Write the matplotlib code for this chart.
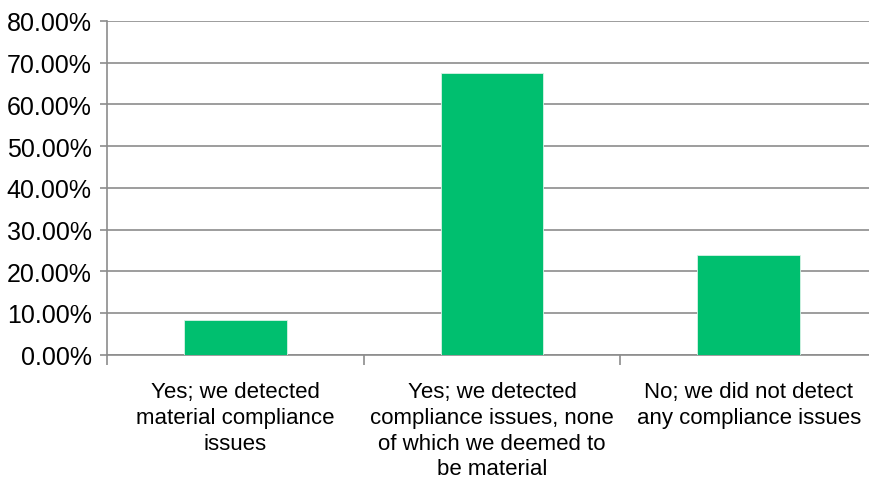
import matplotlib
matplotlib.use("Agg")
import matplotlib.pyplot as plt
from matplotlib.ticker import FuncFormatter, FixedLocator

categories = [
    "Yes; we detected\nmaterial compliance\nissues",
    "Yes; we detected\ncompliance issues, none\nof which we deemed to\nbe material",
    "No; we did not detect\nany compliance issues",
]
shares = [8.3, 67.5, 24.0]
y_ticks = [0, 10, 20, 30, 40, 50, 60, 70, 80]

GREEN = "#00bf6f"
GRID = "#8c8c8c"

plt.rcParams["font.family"] = ["Liberation Sans", "DejaVu Sans"]

fig = plt.figure(figsize=(8.7, 4.85), dpi=100)
ax = fig.add_axes([107 / 870, 129.3 / 485, 770 / 870, 333.7 / 485])

x = range(len(categories))
ax.bar(x, shares, width=0.4, color=GREEN, edgecolor="#d8f3e6", linewidth=0.6, zorder=3)

ax.set_xlim(-0.5, len(categories) - 0.5)
ax.set_ylim(0, 80)
ax.set_yticks(y_ticks)
ax.yaxis.set_major_formatter(FuncFormatter(lambda v, _: f"{v:.2f}%"))
ax.grid(axis="y", color=GRID, linewidth=1.2, zorder=0)

ax.set_xticks(list(x))
ax.set_xticklabels(categories, fontsize=16, linespacing=1.3)
ax.tick_params(axis="x", which="major", length=0, pad=19)
ax.xaxis.set_minor_locator(FixedLocator([-0.5, 0.5, 1.5]))
ax.tick_params(axis="x", which="minor", length=7, width=1.2, color=GRID)
ax.tick_params(axis="y", length=5, width=1.2, color=GRID, labelsize=18, pad=6)

for side in ("top", "right"):
    ax.spines[side].set_visible(False)
for side in ("left", "bottom"):
    ax.spines[side].set_color(GRID)
    ax.spines[side].set_linewidth(1.2)

fig.savefig("out.png", dpi=100)
